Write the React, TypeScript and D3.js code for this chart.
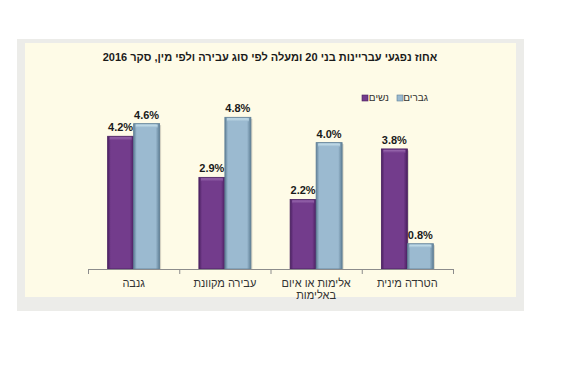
import React from 'react';
import * as d3 from 'd3';

// קטגוריות (משמאל לימין כפי שמופיע בתרשים)
const categories = ['גנבה', 'עבירה מקוונת', 'אלימות או איום באלימות', 'הטרדה מינית'];
const categoryLines = [['גנבה'], ['עבירה מקוונת'], ['אלימות או איום', 'באלימות'], ['הטרדה מינית']];
const seriesNames = ['נשים', 'גברים'];
const women = [4.2, 2.9, 2.2, 3.8];
const men = [4.6, 4.8, 4.0, 0.8];
const title = 'אחוז נפגעי עבריינות בני 20 ומעלה לפי סוג עבירה ולפי מין, סקר 2016';

const W = 567;
const H = 373;
const FONT = '"Liberation Sans", Arial, sans-serif';

const colors: Record<string, { mid: string; dark: string; light: string }> = {
  'נשים': { mid: '#733c8c', dark: '#4a2060', light: '#9a6bb0' },
  'גברים': { mid: '#9bbad0', dark: '#5f7f96', light: '#c9e2ec' },
};

export default function App() {
  const x0 = d3.scaleBand<string>().domain(categories).range([88, 453]).padding(0);
  const x1 = d3
    .scaleBand<string>()
    .domain(seriesNames)
    .range([0, x0.bandwidth()])
    .paddingInner(0)
    .paddingOuter(0.755);
  const y = d3.scaleLinear().domain([0, 5]).range([269, 111]);

  const rows = categories.map((c, i) => ({ cat: c, values: [women[i], men[i]] }));
  const tickXs = [...categories.map((c) => x0(c) as number), x0.range()[1]];

  return (
    <svg width={W} height={H} style={{ position: 'absolute', left: 0, top: 0 }}>
      <defs>
        {seriesNames.map((s, i) => (
          <React.Fragment key={s}>
            <linearGradient id={`side${i}`} x1="0" x2="1" y1="0" y2="0">
              <stop offset="0" stopColor={colors[s].dark} />
              <stop offset="0.12" stopColor={colors[s].mid} />
              <stop offset="0.85" stopColor={colors[s].mid} />
              <stop offset="1" stopColor={colors[s].dark} />
            </linearGradient>
            <linearGradient id={`top${i}`} x1="0" x2="0" y1="0" y2="1">
              <stop offset="0" stopColor={colors[s].light} />
              <stop offset="1" stopColor={colors[s].mid} />
            </linearGradient>
          </React.Fragment>
        ))}
      </defs>

      {/* רקע */}
      <rect x={17} y={39} width={507} height={272} fill="#ecece9" />
      <rect x={25} y={43} width={491} height={254} fill="#fefbe7" />

      <text
        x={270}
        y={61}
        textAnchor="middle"
        direction="rtl"
        fontFamily={FONT}
        fontWeight="bold"
        fontSize={11}
        fill="#1a1a1a"
      >
        {title}
      </text>

      {/* מקרא */}
      <g fontFamily={FONT} fontSize={10} fill="#333">
        <rect x={362} y={95} width={6} height={6} fill={colors['נשים'].mid} stroke={colors['נשים'].dark} strokeWidth={0.6} />
        <text x={389} y={101} textAnchor="end">
          {seriesNames[0]}
        </text>
        <rect x={397} y={95} width={6} height={6} fill={colors['גברים'].mid} stroke={colors['גברים'].dark} strokeWidth={0.6} />
        <text x={428} y={101} textAnchor="end">
          {seriesNames[1]}
        </text>
      </g>

      {/* עמודות */}
      {rows.map((r) => (
        <g key={r.cat} transform={`translate(${x0(r.cat)},0)`}>
          {r.values.map((v, i) => {
            const s = seriesNames[i];
            const bx = x1(s) as number;
            const bw = x1.bandwidth();
            const by = y(v);
            const bh = y(0) - by;
            return (
              <g key={s}>
                <rect x={bx + 1.5} y={by + 1.5} width={bw} height={bh - 1.5} fill="#000" opacity={0.15} />
                <rect x={bx} y={by} width={bw} height={bh} fill={`url(#side${i})`} stroke={colors[s].dark} strokeWidth={0.8} />
                <rect x={bx + 2} y={by + 1} width={bw - 4} height={3} fill={`url(#top${i})`} />
                <text
                  x={bx + bw / 2}
                  y={by - 5}
                  textAnchor="middle"
                  fontFamily={FONT}
                  fontWeight="bold"
                  fontSize={11}
                  fill="#1a1a1a"
                >
                  {`${v.toFixed(1)}%`}
                </text>
              </g>
            );
          })}
        </g>
      ))}

      {/* ציר */}
      <line x1={88} x2={453} y1={269.5} y2={269.5} stroke="#8c8c8c" strokeWidth={1} />
      {tickXs.map((t) => (
        <line key={t} x1={t + 0.5} x2={t + 0.5} y1={269} y2={274} stroke="#8c8c8c" strokeWidth={1} />
      ))}
      {categories.map((c, i) => (
        <text
          key={c}
          x={(x0(c) as number) + x0.bandwidth() / 2}
          y={287}
          textAnchor="middle"
          direction="rtl"
          fontFamily={FONT}
          fontSize={11}
          fill="#333"
        >
          {categoryLines[i].map((ln, j) => (
            <tspan key={j} x={(x0(c) as number) + x0.bandwidth() / 2} dy={j === 0 ? 0 : 12}>
              {ln}
            </tspan>
          ))}
        </text>
      ))}
    </svg>
  );
}
